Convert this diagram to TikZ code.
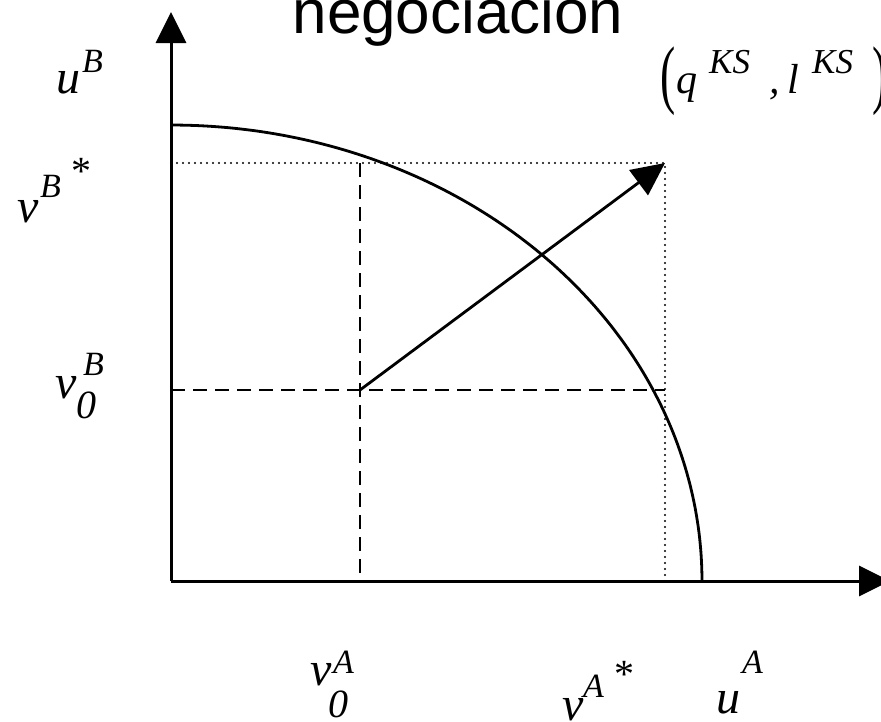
\documentclass[tikz,border=0pt]{standalone}
\usepackage{fontspec}
\setmainfont{Liberation Serif}
\newfontfamily\titlefont{Liberation Sans}
\usetikzlibrary{arrows.meta}
\begin{document}
\begin{tikzpicture}[x=1pt,y=-1pt,
  lbl/.style={anchor=base west, inner sep=0pt, font=\itshape\fontsize{48}{48}\selectfont},
  suplbl/.style={anchor=base west, inner sep=0pt, font=\itshape\fontsize{34}{34}\selectfont},
  kslbl/.style={anchor=base west, inner sep=0pt, font=\itshape\fontsize{35}{35}\selectfont},
  sublbl/.style={anchor=base west, inner sep=0pt, font=\itshape\fontsize{40}{40}\selectfont},
  midlbl/.style={anchor=base west, inner sep=0pt, font=\itshape\fontsize{42}{42}\selectfont},
  starlbl/.style={anchor=base west, inner sep=0pt, font=\fontsize{40}{40}\selectfont},
  parenlbl/.style={anchor=base west, inner sep=0pt, font=\fontsize{76}{76}\selectfont},
  axisline/.style={line width=3pt, -{Triangle[length=31pt,width=30pt]}},
  curveline/.style={line width=2.8pt},
  dashline/.style={line width=2.8pt, dash pattern=on 14pt off 8pt},
  dotline/.style={line width=2.2pt, dash pattern=on 0pt off 6pt, line cap=round},
  arrowline/.style={line width=2.8pt, -{Triangle[length=33pt,width=31pt]}}
]
\useasboundingbox (0,0) rectangle (881,721);
\clip (0,0) rectangle (881,721);
\fill[white] (0,0) rectangle (881,721);

\coordinate (O) at (171,581);
\coordinate (Ytop) at (171,12);
\coordinate (Xend) at (890,581);
\coordinate (D) at (360,390);
\coordinate (KS) at (665,163);
\coordinate (Dx) at (360,581);
\coordinate (Dy) at (171,390);
\coordinate (Kx) at (665,581);
\coordinate (Ky) at (171,163);
\coordinate (Dtop) at (360,163);
\coordinate (Kmid) at (665,390);

% dotted guides
\draw[dotline] (Ky) -- (KS) -- (Kx);
% dashed guides
\draw[dashline] (Dy) -- (Kmid);
\draw[dashline] (Dtop) -- (Dx);
% frontier
\draw[curveline] plot[domain=0:90, samples=120] ({171+531*cos(\x)},{581-456*sin(\x)});
% arrow
\draw[arrowline] (D) -- (KS);
% axes
\draw[axisline] (O) -- (Ytop);
\draw[axisline] (O) -- (Xend);

% title
\node[anchor=base, inner sep=0pt, font=\titlefont\fontsize{62}{62}\selectfont] (title) at (458,33) {negociación};

% u^B
\node[lbl] (uB) at (56,93) {u};
\node[suplbl] (uBs) at (82,72) {B};
% v^{B*}
\node[lbl] (vB) at (17,222) {v};
\node[suplbl] (vBs) at (40,197) {B};
\node[starlbl] (vBst) at (71,184) {*};
% v_0^B
\node[lbl] (v0B) at (55,398) {v};
\node[suplbl] (v0Bs) at (83,375) {B};
\node[sublbl] (v0Bz) at (76,418) {0};
% v_0^A
\node[lbl] (v0A) at (310,685) {v};
\node[suplbl] (v0As) at (333,673) {A};
\node[sublbl] (v0Az) at (328,717) {0};
% v^{A*}
\node[lbl] (vA) at (562,720) {v};
\node[suplbl] (vAs) at (583,697) {A};
\node[starlbl] (vAst) at (614,687) {*};
% u^A
\node[lbl] (uA) at (716,713) {u};
\node[suplbl] (uAs) at (742,673) {A};
% (q^{KS}, l^{KS})
\node[parenlbl] (lp) at (660,99) {\scalebox{0.6}[1]{(}};
\node[midlbl] (q) at (676,93) {q};
\node[kslbl] (qs) at (709,73) {KS};
\node[midlbl] (comma) at (769,93) {,};
\node[midlbl] (l) at (787,93) {l};
\node[kslbl] (ls) at (812,73) {KS};
\node[parenlbl] (rp) at (872,99) {\scalebox{0.6}[1]{)}};
\end{tikzpicture}
\end{document}
